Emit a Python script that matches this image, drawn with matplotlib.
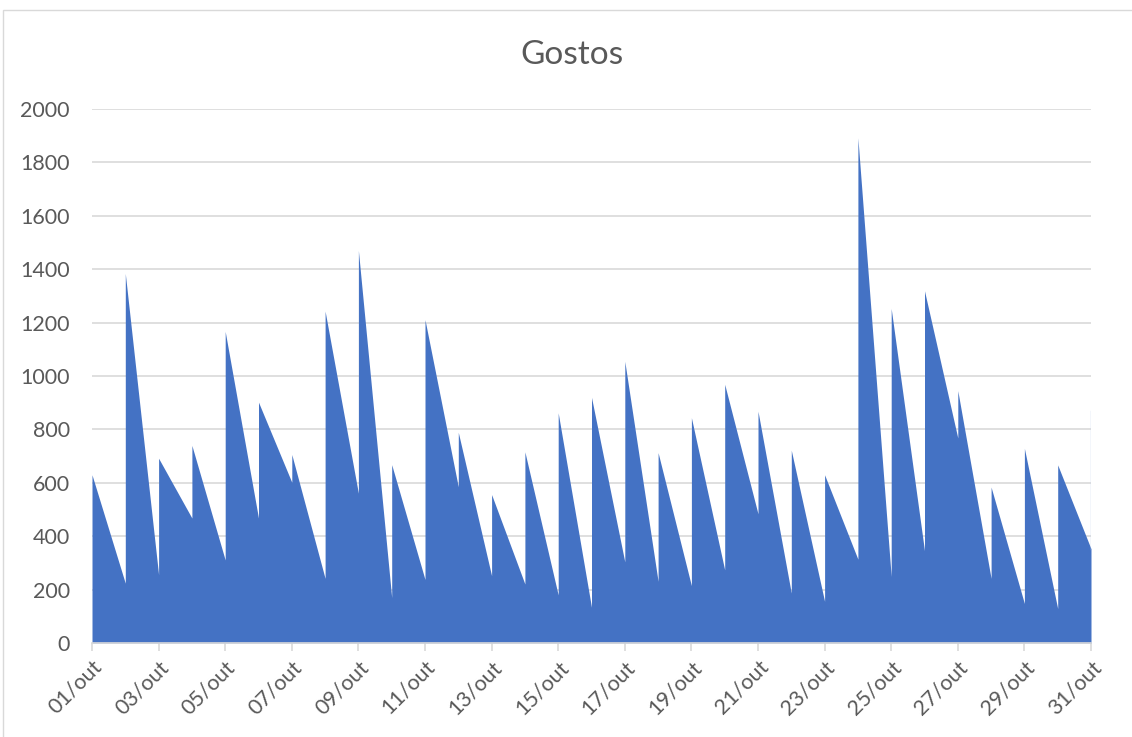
import matplotlib.pyplot as plt
from matplotlib.patches import Rectangle

# gostos por dia: valor ao abrir o dia e valor ao fechar (chega no dia seguinte)
dias = list(range(1, 32))
abertura = [630, 1384, 692, 740, 1167, 902, 706, 1243, 1470, 668,
            1211, 789, 556, 716, 862, 920, 1055, 713, 844, 969,
            868, 722, 630, 1892, 1253, 1319, 945, 584, 729, 667, 868]
fechamento = [224, 256, 468, 311, 468, 602, 242, 561, 170, 238,
              585, 252, 221, 180, 134, 304, 231, 215, 274, 484,
              187, 156, 314, 249, 346, 768, 242, 148, 129, 353]
ticks = dias[::2]
tick_labels = [f'{d:02d}/out' for d in ticks]

AZUL = '#4472C4'
CINZA = '#D9D9D9'
TEXTO = '#595959'

plt.rcParams['font.family'] = ['Lato', 'DejaVu Sans']

# serie em dente de serra: cada dia cai do valor de abertura ao de fechamento
xs, ys = [dias[0]], [abertura[0]]
for d, fim, ini in zip(dias[1:], fechamento, abertura[1:]):
    xs += [d, d]
    ys += [fim, ini]

fig = plt.figure(figsize=(11.32, 7.37), dpi=100)
fig.patches.append(Rectangle((3 / 1132, -0.01), 1.02, 1 - 10 / 737 + 0.01,
                             transform=fig.transFigure, fill=False,
                             edgecolor=CINZA, linewidth=1))
ax = fig.add_axes([92 / 1132, 94 / 737, 999 / 1132, 534 / 737])

ax.fill_between(xs[:-1], ys[:-1], 0, color=AZUL, linewidth=0, zorder=2)
ax.plot([xs[-1], xs[-1]], [ys[-2], ys[-1]], color='#C5D3EC', lw=1, zorder=2)

ax.set_xlim(1, 31)
ax.set_ylim(0, 2000)
ax.set_yticks(range(0, 2001, 200))
ax.set_xticks(ticks)
ax.set_xticklabels(tick_labels, rotation=45, ha='right', rotation_mode='anchor')
ax.grid(axis='y', color=CINZA, linewidth=1.2, zorder=0)
ax.set_axisbelow(True)

for s in ('top', 'right', 'left'):
    ax.spines[s].set_visible(False)
ax.spines['bottom'].set_color(CINZA)
ax.spines['bottom'].set_linewidth(1.2)
ax.tick_params(axis='y', length=0, pad=16, labelsize=15.5, labelcolor=TEXTO)
ax.tick_params(axis='x', length=6, color=CINZA, width=1.2, pad=4,
               labelsize=15.5, labelcolor=TEXTO)

fig.text(572 / 1132, 1 - 55 / 737, 'Gostos', ha='center', va='center',
         fontsize=24, color=TEXTO)

fig.savefig('out.png', dpi=100)
